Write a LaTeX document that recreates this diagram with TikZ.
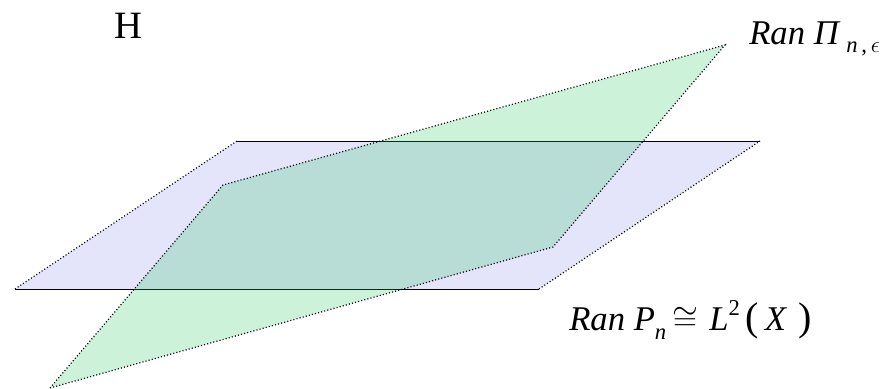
\documentclass[tikz,border=0pt]{standalone}
\usepackage{fontspec}
\setmainfont{Liberation Serif}
\definecolor{planeblue}{HTML}{E4E4FA}
\definecolor{planegreen}{RGB}{35,200,95}
\begin{document}
\begin{tikzpicture}[x=0.75pt, y=-0.75pt,
  bluefill/.style={fill=planeblue},
  greenfill/.style={fill=planegreen, fill opacity=0.23},
  edge/.style={black, line width=0.6pt},
  dotedge/.style={black, line width=0.9pt, dash pattern=on 0.8pt off 1.6pt},
  lbl/.style={inner sep=0pt, font=\fontsize{26}{30}\selectfont}
]
  \useasboundingbox (0,0) rectangle (889,389);

  % Ran P_n
  \coordinate (b1) at (15,289);
  \coordinate (b2) at (539,289);
  \coordinate (b3) at (760,141);
  \coordinate (b4) at (237,141);
  \fill[bluefill] (b1) -- (b2) -- (b3) -- (b4) -- cycle;
  \draw[edge] (b1) -- (b2);
  \draw[edge] (b4) -- (b3);
  \draw[dotedge] (b2) -- (b3);
  \draw[dotedge] (b1) -- (b4);

  % Ran Pi
  \coordinate (g1) at (50,388);
  \coordinate (g2) at (553,247);
  \coordinate (g3) at (725,45);
  \coordinate (g4) at (223,185);
  \fill[greenfill] (g1) -- (g2) -- (g3) -- (g4) -- cycle;
  \draw[dotedge] (g1) -- (g2) -- (g3) -- (g4) -- cycle;

  % labels
  \node[lbl, anchor=base west, font=\fontsize{29}{32}\selectfont] (hilb) at (114,38) {H};
  \node[lbl, anchor=base west] (ranpi) at (749,44)
    {\textit{Ran} \textit{Π}\,\raisebox{-6pt}{\fontsize{17}{19}\selectfont\textit{n}\,,\,$\epsilon$}};
  \node[lbl, anchor=base west] (ranp) at (569,330)
    {\textit{Ran} \textit{P}\raisebox{-7pt}{\fontsize{17}{19}\selectfont\textit{n}}\,$\cong$\,\,\textit{L}\raisebox{11pt}{\fontsize{17}{19}\selectfont 2}\,{\fontsize{30}{32}\selectfont(}\,\textit{X}\,\,{\fontsize{30}{32}\selectfont)}};
\end{tikzpicture}
\end{document}
